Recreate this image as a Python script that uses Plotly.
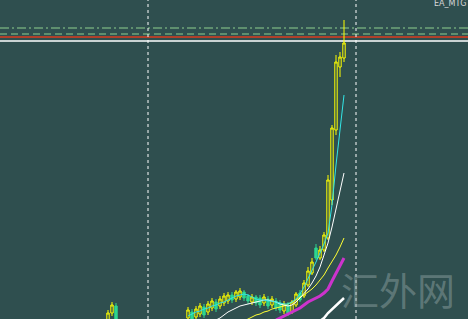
import plotly.graph_objects as go

BG = "#2F4F4F"

# bar index for each candle
bars = list(range(0, 60))

# OHLC prices (chart units)
opens = [-3, 6, 13, -6, -10, -15, -19, -16, -22, -27, -24, -28, -33, -30, -32, -27, -22, -18, -14, -10,
         1, 7, 2, 5, 12, 7, 11, 17, 13, 16, 18, 24, 20, 22, 27, 23, 17, 22, 21, 16,
         20, 14, 18, 16, 8, 14, 7, 14, 26, 23, 34, 46, 71, 61, 69, 81, 119, 189, 252, 261]
highs = [9, 17, 16, -2, -6, -11, -14, -12, -18, -22, -20, -23, -27, -26, -25, -20, -16, -12, -8, -5,
         12, 10, 13, 16, 15, 18, 21, 20, 23, 26, 27, 27, 29, 31, 29, 25, 25, 24, 24, 25,
         23, 23, 21, 19, 18, 17, 19, 27, 29, 39, 52, 61, 75, 73, 87, 144, 194, 264, 267, 299]
lows = [-6, 3, -9, -14, -18, -22, -24, -25, -30, -33, -31, -36, -38, -36, -37, -31, -26, -23, -18, -14,
        -3, -5, -2, 2, 1, 4, 8, 7, 10, 13, 15, 16, 17, 19, 18, 15, 14, 13, 11, 13,
        10, 11, 8, 6, 5, 3, 5, 12, 17, 21, 32, 44, 59, 59, 67, 79, 114, 184, 242, 257]
closes = [6, 14, -6, -10, -15, -19, -16, -22, -27, -24, -28, -33, -30, -32, -27, -22, -18, -14, -10, -7,
          9, -1, 10, 13, 4, 15, 18, 10, 20, 23, 24, 19, 27, 28, 21, 18, 22, 16, 14, 22,
          13, 20, 11, 9, 15, 6, 17, 25, 19, 36, 48, 57, 61, 69, 84, 139, 191, 257, 262, 276]

# moving averages
ma_cyan_x = list(range(20, 60))
ma_cyan = [3, 5, 7, 8, 10, 11, 13, 14, 16, 17, 19, 21, 23, 24, 25, 24, 22, 20, 19, 19,
           18, 18, 17, 16, 15, 15, 17, 20, 25, 32, 40, 49, 57, 66, 75, 86, 114, 154, 189, 224]

ma_white_x = list(range(26, 60))
ma_white = [-4, -1, 1, 4, 7, 9, 11, 13, 14, 15, 16, 17, 18, 19, 19, 18, 17, 15, 14, 13,
            14, 17, 21, 25, 30, 36, 43, 52, 63, 76, 92, 109, 127, 146]

ma_yellow_x = list(range(34, 60))
ma_yellow = [-2, 0, 2, 4, 5, 7, 8, 10, 11, 12, 13, 15, 17, 19, 22, 24, 27, 30, 34, 39,
             44, 51, 57, 64, 72, 81]

ma_magenta_x = list(range(42, 60))
ma_magenta = [-1, 1, 3, 5, 7, 9, 11, 14, 17, 19, 21, 23, 26, 30, 38, 46, 54, 61]

ma_white2_x = list(range(53, 60))
ma_white2 = [-2, 1, 6, 10, 14, 17, 21]

# horizontal levels and vertical separators
lvl_dashdot = 291
lvl_dash = 285
lvl_red = 282
lvl_white = 278
vlines = [10, 62]

fig = go.Figure()

fig.add_trace(go.Candlestick(
    x=bars, open=opens, high=highs, low=lows, close=closes,
    increasing=dict(line=dict(color="#FFFF00", width=1), fillcolor=BG),
    decreasing=dict(line=dict(color="#2ED68F", width=1), fillcolor="#2ED68F"),
    whiskerwidth=0, showlegend=False, hoverinfo="skip"))

fig.add_trace(go.Scatter(x=ma_magenta_x, y=ma_magenta, mode="lines",
                         line=dict(color="#CC33CC", width=3), showlegend=False))
fig.add_trace(go.Scatter(x=ma_white2_x, y=ma_white2, mode="lines",
                         line=dict(color="#FFFFFF", width=2.5), showlegend=False))
fig.add_trace(go.Scatter(x=ma_yellow_x, y=ma_yellow, mode="lines",
                         line=dict(color="#FFFF33", width=1), showlegend=False))
fig.add_trace(go.Scatter(x=ma_white_x, y=ma_white, mode="lines",
                         line=dict(color="#FFFFFF", width=1), showlegend=False))
fig.add_trace(go.Scatter(x=ma_cyan_x, y=ma_cyan, mode="lines",
                         line=dict(color="#33E6E6", width=1), showlegend=False))

shapes = [
    dict(type="line", xref="paper", x0=0, x1=1, yref="y", y0=lvl_dashdot, y1=lvl_dashdot,
         line=dict(color="#8FD08F", width=1, dash="9px,3px,2px,3px"), layer="below"),
    dict(type="line", xref="paper", x0=0, x1=1, yref="y", y0=lvl_dash, y1=lvl_dash,
         line=dict(color="#8FD08F", width=1, dash="7px,4px"), layer="below"),
    dict(type="line", xref="paper", x0=0, x1=1, yref="y", y0=lvl_red, y1=lvl_red,
         line=dict(color="#B0402A", width=2), layer="below"),
    dict(type="line", xref="paper", x0=0, x1=1, yref="y", y0=lvl_white, y1=lvl_white,
         line=dict(color="#FFFFFF", width=1.5), layer="below"),
]
for vx in vlines:
    shapes.append(dict(type="line", xref="x", x0=vx, x1=vx, yref="paper", y0=0, y1=1,
                       line=dict(color="#FFFFFF", width=1, dash="3px,3px"), layer="below"))

fig.update_layout(
    width=468, height=319,
    margin=dict(l=0, r=0, t=0, b=0),
    paper_bgcolor=BG, plot_bgcolor=BG,
    showlegend=False,
    boxgap=0.15,
    shapes=shapes,
    xaxis=dict(range=[-27, 90], visible=False, rangeslider=dict(visible=False), fixedrange=True),
    yaxis=dict(range=[0, 319], visible=False, fixedrange=True),
    annotations=[
        dict(text="EA_MTG", xref="paper", yref="paper", x=432/468, y=1.0,
             xanchor="left", yanchor="top", showarrow=False, yshift=3,
             font=dict(family="DejaVu Sans", size=8, color="#D8D8D8")),
        dict(text="汇外网", xref="paper", yref="paper", x=398/468, y=1 - 288/319,
             xanchor="center", yanchor="middle", showarrow=False,
             font=dict(family="Noto Sans CJK SC", size=38, color="rgba(150,170,170,0.45)")),
    ],
)

fig.write_html("out.html")
